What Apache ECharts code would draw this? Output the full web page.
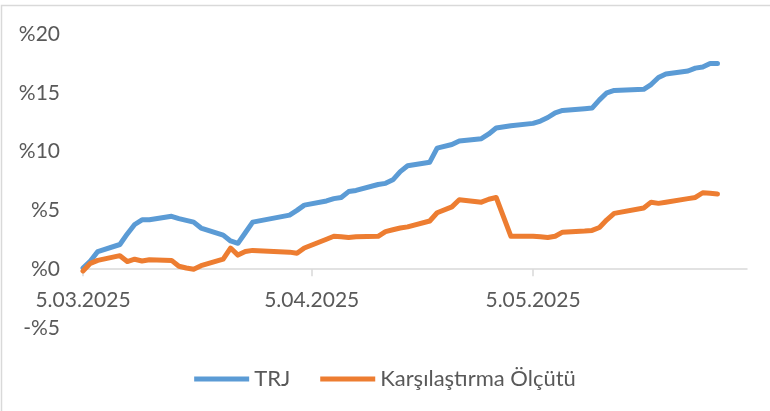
<!DOCTYPE html>
<html>
<head>
<meta charset="utf-8">
<script src="https://cdn.jsdelivr.net/npm/echarts@6/dist/echarts.min.js"></script>
<style>
html,body{margin:0;padding:0;background:#fff;}
#c{width:770px;height:411px;}
</style>
</head>
<body>
<div id="c"></div>
<script>
var dates = ['2025-03-05','2025-03-06','2025-03-07','2025-03-10','2025-03-11','2025-03-12','2025-03-13','2025-03-14',
'2025-03-17','2025-03-18','2025-03-19','2025-03-20','2025-03-21','2025-03-24','2025-03-25','2025-03-26','2025-03-27','2025-03-28',
'2025-04-02','2025-04-03','2025-04-04','2025-04-07','2025-04-08','2025-04-09','2025-04-10','2025-04-11',
'2025-04-14','2025-04-15','2025-04-16','2025-04-17','2025-04-18','2025-04-21','2025-04-22','2025-04-24','2025-04-25',
'2025-04-28','2025-04-29','2025-04-30','2025-05-02','2025-05-05','2025-05-06','2025-05-07','2025-05-08','2025-05-09',
'2025-05-12','2025-05-13','2025-05-14','2025-05-15','2025-05-16','2025-05-20','2025-05-21','2025-05-22','2025-05-23',
'2025-05-26','2025-05-27','2025-05-28','2025-05-29','2025-05-30'];
var trj = [0.1,0.7,1.5,2.1,3.0,3.8,4.2,4.2,
4.5,4.3,4.15,4.0,3.5,2.9,2.4,2.2,3.1,4.0,
4.6,5.0,5.45,5.8,6.0,6.1,6.6,6.7,
7.2,7.3,7.6,8.3,8.8,9.1,10.3,10.6,10.9,
11.1,11.5,12.0,12.2,12.4,12.6,12.9,13.3,13.5,
13.65,13.7,14.4,15.0,15.2,15.3,15.7,16.3,16.6,
16.85,17.1,17.2,17.5,17.5];
var benchmark = [-0.15,0.5,0.75,1.15,0.65,0.85,0.7,0.8,
0.75,0.25,0.1,0.0,0.3,0.85,1.8,1.2,1.5,1.6,
1.45,1.35,1.8,2.55,2.8,2.75,2.7,2.75,
2.8,3.2,3.35,3.5,3.6,4.1,4.8,5.3,5.9,
5.7,5.95,6.1,2.8,2.8,2.75,2.7,2.8,3.15,
3.25,3.3,3.55,4.2,4.75,5.2,5.7,5.6,5.7,
6.0,6.1,6.5,6.45,6.4];
var tickDates = ['2025-03-05','2025-04-05','2025-05-05'];
var tickLabels = ['5.03.2025','5.04.2025','5.05.2025'];
var axisStart = '2025-03-05';
var axisEnd = '2025-06-03';
var yTicks = [-5,0,5,10,15,20];
var seriesNames = ['TRJ','Karşılaştırma Ölçütü'];

function ts(s){ var p=s.split('-'); return Date.UTC(+p[0],+p[1]-1,+p[2]); }
var DAY = 86400000;
function dayIdx(s){ return Math.round((ts(s)-ts(axisStart))/DAY); }
function pairs(vals){ return dates.map(function(d,i){ return [dayIdx(d), vals[i]]; }); }
var tickPos = tickDates.map(dayIdx);

var FONT = 'Lato';
var TXT = '#595959';
var chart = echarts.init(document.getElementById('c'), null, {renderer:'canvas'});
chart.setOption({
  animation:false,
  backgroundColor:'#ffffff',
  textStyle:{fontFamily:FONT},
  graphic:[{type:'rect', shape:{x:1.5,y:5.5,width:800,height:500}, style:{fill:'none', stroke:'#d9d9d9', lineWidth:1.5}, silent:true, z:-10}],
  grid:{left:83, right:23, top:34, bottom:83, containLabel:false},
  legend:{
    data:seriesNames, bottom:16, left:'center', itemWidth:55, itemHeight:5, itemGap:30,
    icon:'rect',
    textStyle:{color:TXT, fontSize:22, fontFamily:FONT}
  },
  xAxis:{
    type:'value', min:0, max:dayIdx(axisEnd),
    axisLine:{onZero:true, lineStyle:{color:'#d9d9d9', width:1.5}},
    axisTick:{show:true, length:7, lineStyle:{color:'#d9d9d9', width:1.5}, customValues:tickPos},
    splitLine:{show:false},
    axisLabel:{
      customValues:tickPos, margin:-38, color:TXT, fontSize:21, fontFamily:FONT, hideOverlap:false,
      formatter:function(v){ var i=tickPos.indexOf(v); return i>=0 ? tickLabels[i] : ''; }
    }
  },
  yAxis:{
    type:'value', min:yTicks[0], max:yTicks[yTicks.length-1], interval:5,
    axisLine:{show:false}, axisTick:{show:false}, splitLine:{show:false},
    axisLabel:{margin:23, color:TXT, fontSize:21, fontFamily:FONT,
      formatter:function(v){ return v<0 ? '-%'+Math.abs(v) : '%'+v; }}
  },
  series:[
    {name:seriesNames[0], type:'line', data:pairs(trj), showSymbol:false, symbol:'none',
     lineStyle:{color:'#5B9BD5', width:5, cap:'round', join:'round'}, itemStyle:{color:'#5B9BD5'}},
    {name:seriesNames[1], type:'line', data:pairs(benchmark), showSymbol:false, symbol:'none',
     lineStyle:{color:'#ED7D31', width:5, cap:'round', join:'round'}, itemStyle:{color:'#ED7D31'}}
  ]
});
</script>
</body>
</html>
